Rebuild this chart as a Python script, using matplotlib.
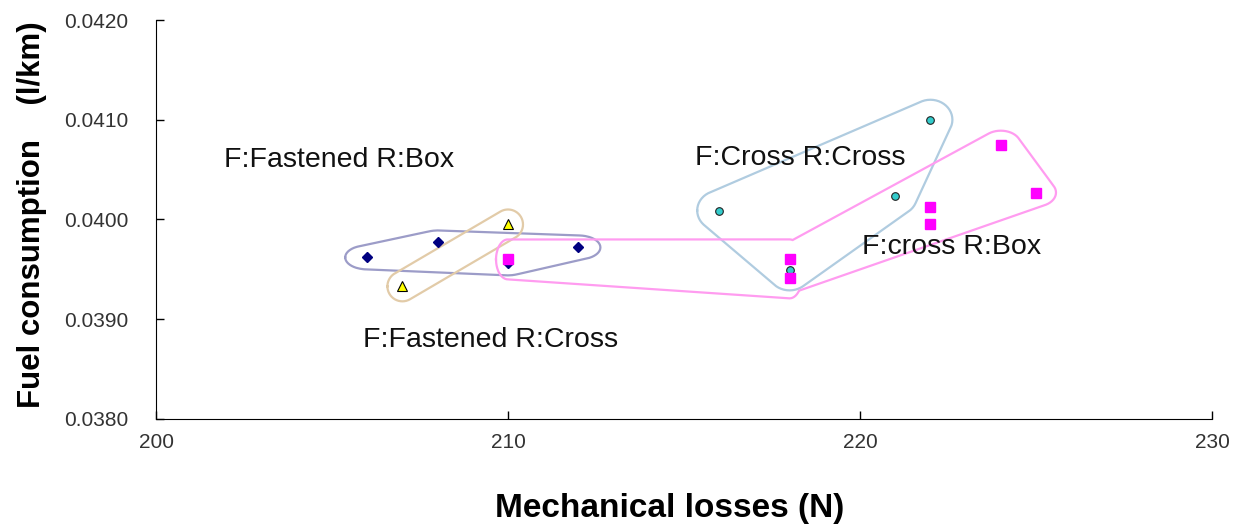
import numpy as np
import matplotlib
matplotlib.use('Agg')
import matplotlib.pyplot as plt
from matplotlib.path import Path

# data
box_x = [206, 208, 210, 212]
box_y = [0.03962, 0.03977, 0.03956, 0.03972]

fcross_x = [207, 210]
fcross_y = [0.03933, 0.03995]

cc_x = [216, 218, 221, 222]
cc_y = [0.04009, 0.03949, 0.04024, 0.04100]

cbox_x = [210, 218, 218, 222, 222, 224, 225]
cbox_y = [0.03960, 0.03960, 0.03941, 0.04013, 0.03995, 0.04075, 0.04027]

group_labels = ['F:Fastened R:Box', 'F:Fastened R:Cross', 'F:Cross R:Cross', 'F:cross R:Box']
label_x = [205.2, 209.5, 218.3, 222.6]
label_y = [0.04060, 0.03879, 0.04062, 0.03972]

xticks = [200, 210, 220, 230]
yticks = [0.0380, 0.0390, 0.0400, 0.0410, 0.0420]

plt.rcParams['font.family'] = ['Liberation Sans', 'DejaVu Sans']


def convex_hull(p):
  p = sorted(map(tuple, p))
  def cross(o, a, b):
    return (a[0]-o[0])*(b[1]-o[1]) - (a[1]-o[1])*(b[0]-o[0])
  lower, upper = [], []
  for q in p:
    while len(lower) >= 2 and cross(lower[-2], lower[-1], q) <= 0:
      lower.pop()
    lower.append(q)
  for q in reversed(p):
    while len(upper) >= 2 and cross(upper[-2], upper[-1], q) <= 0:
      upper.pop()
    upper.append(q)
  return np.array(lower[:-1] + upper[:-1])


def padded_hull(pts, rx, ry):
  ang = np.linspace(0, 2*np.pi, 48, endpoint=False)
  ring = np.column_stack([rx*np.cos(ang), ry*np.sin(ang)])
  cloud = (pts[:, None, :] + ring[None, :, :]).reshape(-1, 2)
  hull = convex_hull(cloud)
  hull = np.vstack([hull, hull[:1]])
  # densify the edges so parts can be masked out later
  out = []
  for a, b in zip(hull[:-1], hull[1:]):
    n = max(2, int(np.hypot(*(b - a)) / 2))
    out.append(a + (b - a) * np.linspace(0, 1, n, endpoint=False)[:, None])
  out.append(hull[:1])
  return np.vstack(out)


'''
draw a loop round a group of points (padding in pixels); parts is a list of
index lists whose padded hulls get merged into one outline
'''
def outline(ax, xs, ys, parts, pads, color):
  pts = ax.transData.transform(np.column_stack([xs, ys]))
  hulls = [padded_hull(pts[idx], *pad) for idx, pad in zip(parts, pads)]
  for i, h in enumerate(hulls):
    keep = np.ones(len(h), bool)
    for j, other in enumerate(hulls):
      if i != j:
        keep &= ~Path(other).contains_points(h)
    h = h.copy()
    h[~keep] = np.nan
    d = ax.transData.inverted().transform(h)
    d[~keep] = np.nan
    ax.plot(d[:, 0], d[:, 1], color=color, lw=1.6, zorder=1)


fig = plt.figure(figsize=(12.34, 5.29), dpi=100)
ax = fig.add_axes([156/1234, 1-419/529, (1212-156)/1234, (419-20)/529])
ax.set_xlim(200, 230)
ax.set_ylim(0.0380, 0.0420)

ax.spines['top'].set_visible(False)
ax.spines['right'].set_visible(False)
ax.set_xticks(xticks)
ax.set_yticks(yticks)
ax.set_yticklabels(['%.4f' % v for v in yticks])
ax.tick_params(direction='in', length=6, width=1, labelsize=15, labelcolor='#333333')
ax.tick_params(axis='x', pad=10)
ax.tick_params(axis='y', pad=20)

outline(ax, box_x, box_y, [[0, 1, 2, 3]], [(22, 12)], '#9c9cc8')
outline(ax, fcross_x, fcross_y, [[0, 1]], [(15, 15)], '#e2cba8')
outline(ax, cc_x, cc_y, [[0, 1, 2, 3]], [(22, 20)], '#b0cce0')
outline(ax, cbox_x, cbox_y, [[0, 1, 2], [1, 2, 3, 4, 5, 6]], [(12, 20), (20, 14)], '#ff9cf0')

ax.plot(box_x, box_y, 'D', color='#000080', ms=5, zorder=3)
ax.plot(fcross_x, fcross_y, '^', mfc='#ffff00', mec='black', mew=0.8, ms=7, zorder=3)
ax.plot(cc_x, cc_y, 'o', mfc='#33cccc', mec='#222222', mew=0.8, ms=5.5, zorder=3)
ax.plot(cbox_x, cbox_y, 's', color='#ff00ff', ms=6.5, zorder=4)

for t, x, y in zip(group_labels, label_x, label_y):
  ax.text(x, y, t, fontsize=20.5, ha='center', va='center', color='#111111')

fig.text(670/1234, 1-508/529, 'Mechanical losses (N)', fontsize=24, fontweight='bold',
         ha='center', va='center')
fig.text(32/1234, 1-215/529, 'Fuel consumption    (l/km)', fontsize=22.5, fontweight='bold',
         ha='center', va='center', rotation=90)

fig.savefig('out.png', dpi=100)
